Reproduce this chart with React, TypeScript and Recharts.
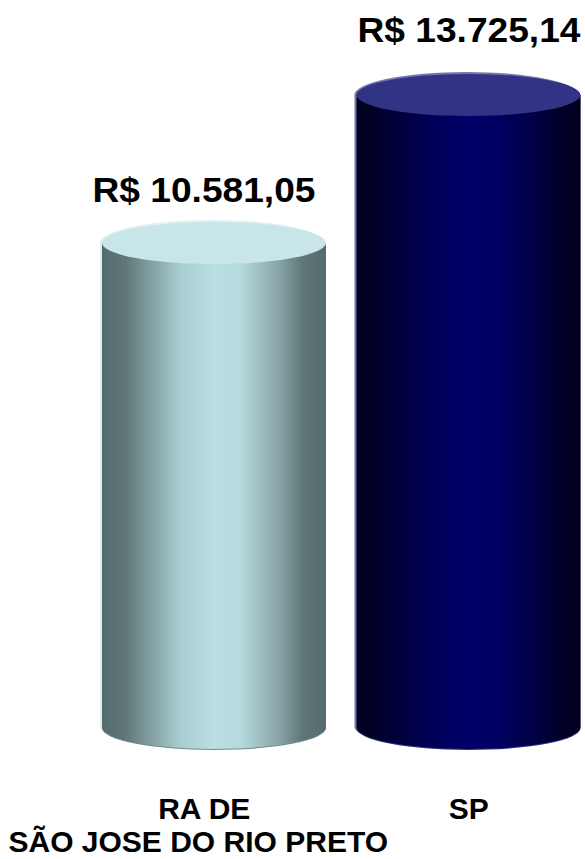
import React from "react";
import { BarChart, Bar, XAxis, YAxis, LabelList, Cell } from "recharts";

const categories = ["RA DE|SÃO JOSE DO RIO PRETO", "SP"];
const values = [10581.05, 13725.14];
const valueLabels = ["R$ 10.581,05", "R$ 13.725,14"];
const labelShift = [-10, 0.5];
const labelLift = [41, 53];
const tickShift = [[-10, -16], [0, 0]];
const sideStops = [
  ["#566b6d", "#5f7577", "#a9ced1", "#b9dfe3", "#b5dadd", "#8ba8ab", "#5e7577", "#566a6c"],
  ["#00001f", "#00002c", "#00005a", "#000068", "#000064", "#000048", "#00002a", "#00001c"],
];
const stopOffsets = [0, 0.1, 0.35, 0.5, 0.62, 0.78, 0.9, 1];
const topFill = ["#c8e6e9", "#333385"];
const rimFill = ["#dff0f2", "#7575ad"];
const bottomEdge = ["#6f8b8e", "#30307a"];

const data = categories.map((c, i) => ({ category: c, value: values[i], idx: i }));
const RY = 21;
const FONT = "'Liberation Sans', Arial, sans-serif";

function Cylinder(props: any) {
  const { x, y, width, height, payload } = props;
  const i = payload.idx;
  const rx = width / 2;
  const cx = x + rx;
  const bottom = y + height - 14;
  const body = `M${x},${y} L${x},${bottom} A${rx},${RY + 1} 0 0 0 ${x + width},${bottom} L${x + width},${y} Z`;
  const rim = `M${x - 2},${bottom} L${x - 2},${y} A${rx},${RY + 2} 0 0 1 ${x + width - 2},${y} L${x + width},${y} L${x + width},${bottom} A${rx + 1},${RY} 0 0 1 ${x - 2},${bottom} Z`;
  return (
    <g>
      <path d={rim} fill={rimFill[i]} />
      <ellipse cx={cx} cy={bottom + 1} rx={rx} ry={RY + 1} fill={bottomEdge[i]} />
      <path d={body} fill={`url(#side${i})`} />
      <ellipse cx={cx} cy={y} rx={rx} ry={RY} fill={topFill[i]} />
    </g>
  );
}

function ValueLabel(props: any) {
  const { x, y, width, index } = props;
  return (
    <text
      x={x + width / 2 + labelShift[index]}
      y={y - labelLift[index]}
      textAnchor="middle"
      fontFamily={FONT}
      fontWeight="bold"
      fontSize={35}
      textLength={223}
      lengthAdjust="spacingAndGlyphs"
      fill="#000"
    >
      {valueLabels[index]}
    </text>
  );
}

function CategoryTick(props: any) {
  const { x, y, payload, index } = props;
  const lines = String(payload.value).split("|");
  return (
    <g>
      {lines.map((line: string, k: number) => (
        <text
          key={k}
          x={x + tickShift[index][k]}
          y={y + 70 + k * 33}
          textAnchor="middle"
          fontFamily={FONT}
          fontWeight="bold"
          fontSize={30}
          fill="#000"
        >
          {line}
        </text>
      ))}
    </g>
  );
}

export default function App() {
  return (
    <div style={{ position: "absolute", left: 0, top: 0, width: 585, height: 859, overflow: "hidden" }}>
      <BarChart
        width={600}
        height={859}
        data={data}
        margin={{ top: 35, right: 4, bottom: 0, left: 87 }}
        barSize={224}
      >
        <defs>
          {sideStops.map((stops, i) => (
            <linearGradient key={i} id={`side${i}`} x1="0" y1="0" x2="1" y2="0">
              {stops.map((c, k) => (
                <stop key={k} offset={stopOffsets[k]} stopColor={c} />
              ))}
            </linearGradient>
          ))}
        </defs>
        <XAxis
          dataKey="category"
          axisLine={false}
          tickLine={false}
          interval={0}
          height={118}
          tick={<CategoryTick />}
        />
        <YAxis hide domain={[0, 15000]} />
        <Bar dataKey="value" shape={<Cylinder />} isAnimationActive={false}>
          {data.map((d) => (
            <Cell key={d.idx} />
          ))}
          <LabelList dataKey="value" content={<ValueLabel />} />
        </Bar>
      </BarChart>
    </div>
  );
}
